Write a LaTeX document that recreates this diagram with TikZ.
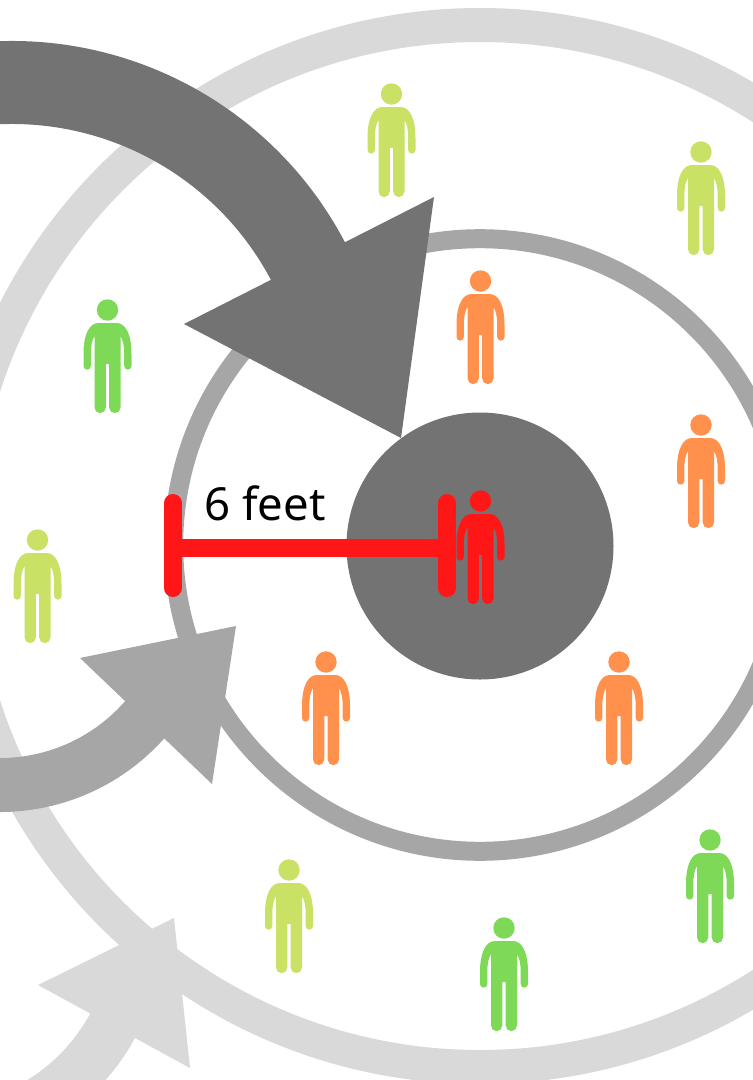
\documentclass[tikz,border=0pt]{standalone}
\usepackage{fontspec}
\usepackage{xcolor}
\setmainfont{Noto Sans}
\definecolor{darkgrey}{HTML}{737373}
\definecolor{midgrey}{HTML}{A6A6A6}
\definecolor{lightgrey}{HTML}{D9D9D9}
\definecolor{limegreen}{HTML}{C9E265}
\definecolor{leafgreen}{HTML}{7ED957}
\definecolor{softorange}{HTML}{FF914D}
\definecolor{brightred}{HTML}{FF1616}

\begin{document}
\begin{tikzpicture}[
x=1pt,y=-1pt,
lightpart/.style={draw=lightgrey,fill=none},
midpart/.style={draw=midgrey,fill=none},
darkpart/.style={draw=darkgrey,fill=none},
measure/.style={draw=brightred,line width=18pt},
person/.pic={
\fill[pic actions] (0,0) circle (10.7);
\fill[pic actions] (-9,13) -- (9,13)
.. controls (18,13) and (24,24) .. (24,44) -- (24,56)
arc[start angle=0,end angle=180,radius=3.65] -- (16.7,44)
.. controls (16.7,36) and (15.5,30) .. (13,26) -- (13,97.5)
arc[start angle=0,end angle=180,radius=5.65] -- (1.7,54) -- (-1.7,54) -- (-1.7,97.5)
arc[start angle=0,end angle=180,radius=5.65] -- (-13,26)
.. controls (-15.5,30) and (-16.7,36) .. (-16.7,44) -- (-16.7,56)
arc[start angle=0,end angle=180,radius=3.65] -- (-24,44)
.. controls (-24,24) and (-18,13) .. (-9,13) -- cycle;
}
]

\useasboundingbox (0,0) rectangle (753,1080);
\clip (0,0) rectangle (753,1080);
\fill[white] (0,0) rectangle (753,1080);

% Outer ring and its arrow
\draw[lightpart,line width=34pt] (480,546) circle (521);
\draw[lightpart,line width=51pt] (-67,928) ++(70:204.5)
arc[start angle=70,end angle=27,radius=204.5];
\fill[lightgrey] (38,985) -- (174,918) -- (190,1068) -- cycle;

% Middle ring and its arrow
\draw[midpart,line width=19pt] (480,545) circle (306.3);
\draw[midpart,line width=54pt] (0,592) ++(100:193)
arc[start angle=100,end angle=40,radius=193];
\fill[midgrey] (80,658) -- (236,626) -- (212,784) -- cycle;

% Inner circle and its arrow
\draw[darkpart,line width=83pt] (12,417) ++(-100:334.5)
arc[start angle=-100,end angle=-26,radius=334.5];
\fill[darkgrey] (184,324) -- (434,197) -- (401,438) -- cycle;
\node[circle,fill=darkgrey,minimum size=267pt,inner sep=0pt] (centre) at (480,546) {};

% People
\foreach \px/\py/\pc in {
391.5/94/limegreen,701/152/limegreen,37.5/540/limegreen,289/870/limegreen,
107.5/310/leafgreen,710/840/leafgreen,504/928/leafgreen,
480.5/281/softorange,701/425/softorange,326/662/softorange,619/662/softorange,
480.5/501/brightred}
\pic[fill=\pc] at (\px,\py) {person};

% Distance marker
\coordinate (leftend) at (173,548);
\coordinate (rightend) at (447,548);
\draw[measure] (leftend) -- (rightend);
\draw[measure,line cap=round] ([yshift=45pt]leftend) -- ([yshift=-40pt]leftend);
\draw[measure,line cap=round] ([yshift=45pt]rightend) -- ([yshift=-40pt]rightend);
\node[anchor=base west,inner sep=0pt,font=\fontsize{45.5}{50}\selectfont] (distance) at (204,520) {6 feet};

\end{tikzpicture}
\end{document}
